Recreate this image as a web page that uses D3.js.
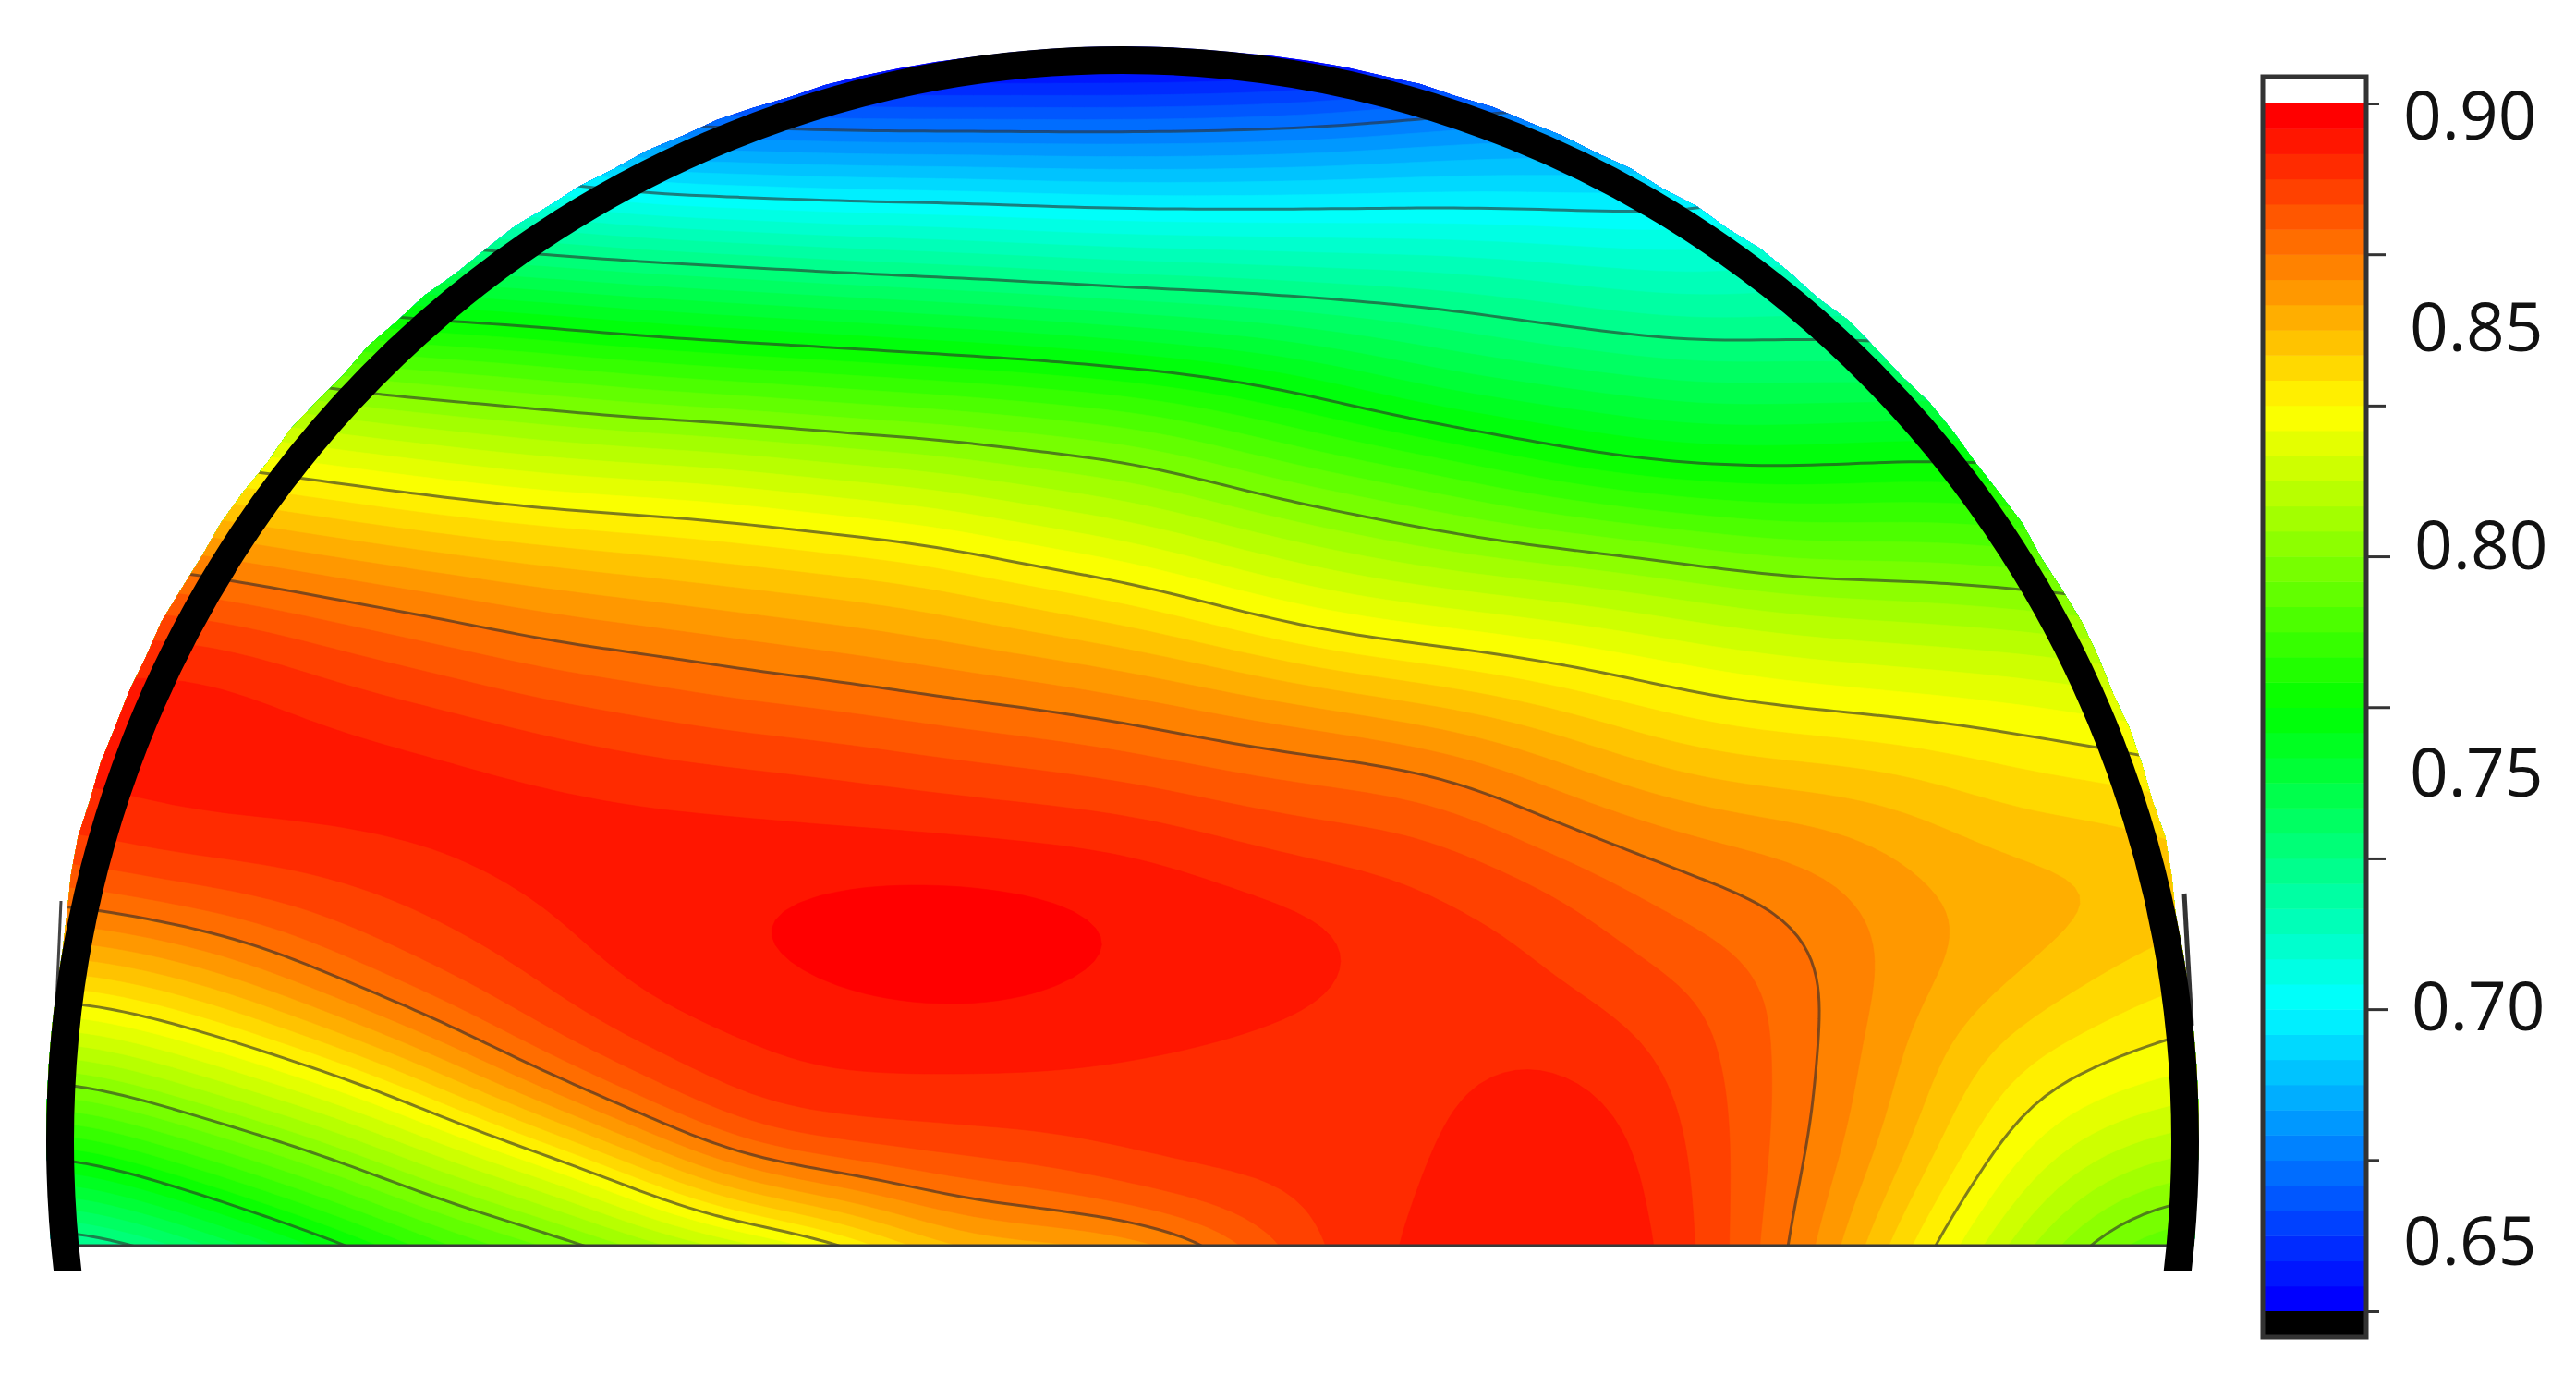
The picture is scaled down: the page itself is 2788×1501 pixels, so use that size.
<!DOCTYPE html>
<html>
<head>
<meta charset="utf-8">
<script src="https://cdn.jsdelivr.net/npm/d3@7"></script>
<style>html,body{margin:0;padding:0;background:#fff}svg{display:block;filter:blur(0.7px)}</style>
</head>
<body>
<svg id="chart" width="2788" height="1501"></svg>
<script>
// ---- values ----
const gridX = [30,90,150,210,270,330,390,450,510,570,630,690,750,810,870,930,990,1050,1110,1170,1230,1290,1350];
const gridY = [0,40,80,120,160,200,240,280,320,360,400,440,480,520,560,600,640,680,720,760];
// one array per gridX column, one value (in thousandths) per gridY row
const field = [
[620,655,685,717,752,782,811,833,858,875,887,891,889,879,862,838,811,783,752,723],
[620,655,685,717,752,782,811,833,856,873,889,893,890,885,867,845,820,794,765,733],
[620,655,690,720,752,782,808,830,851,869,886,892,892,885,873,855,831,806,779,750],
[620,655,685,717,745,773,802,826,846,865,879,889,892,887,879,868,844,817,793,765],
[620,650,680,710,740,771,798,822,842,861,875,886,892,889,884,877,860,833,807,783],
[620,645,678,708,737,768,795,818,839,857,870,882,890,892,888,884,875,851,818,793],
[610,640,668,702,734,764,791,816,837,854,868,879,888,892,893,890,884,869,836,807],
[610,638,669,700,732,761,789,814,835,851,865,876,887,892,894,893,888,883,857,819],
[610,636,667,698,729,759,786,810,831,849,862,875,885,892,897,895,890,886,864,830],
[610,636,667,698,727,756,784,808,828,846,859,872,883,892,898,897,890,886,872,850],
[610,636,667,696,725,754,781,803,822,840,856,870,881,891,897,896,890,886,875,853],
[610,636,667,695,723,750,778,800,818,836,852,867,879,890,894,893,889,886,882,856],
[610,637,668,695,722,748,772,792,811,828,847,863,875,886,892,892,888,886,885,870],
[610,640,669,696,720,744,765,785,805,822,840,860,873,882,890,890,886,885,885,886],
[610,645,673,696,720,740,756,780,799,818,837,855,871,881,885,885,886,887,889,890],
[610,650,675,696,718,735,753,772,794,815,833,850,863,874,884,885,889,894,895,895],
[610,655,675,695,716,731,750,766,790,812,829,843,856,868,875,881,885,889,892,894],
[610,660,680,697,714,729,747,764,786,807,825,838,851,863,870,876,878,879,879,879],
[610,665,690,705,718,731,748,765,783,804,822,836,850,860,865,867,866,865,863,860],
[610,660,685,700,715,727,748,767,785,803,820,834,847,854,857,856,853,851,845,836],
[610,670,695,710,720,733,750,765,782,801,818,832,841,850,853,850,840,832,823,813],
[610,670,700,715,725,735,750,765,780,798,815,829,840,849,850,841,835,823,808,793],
[610,670,700,715,725,735,750,765,780,795,812,825,836,845,844,837,830,817,803,785]
];
const tickValues = [0.9, 0.8667, 0.8333, 0.8, 0.7667, 0.7333, 0.7, 0.6667, 0.6333];
const tickLabels = ["0.90", "0.85", "0.80", "0.75", "0.70", "0.65"];
const contourLines = [0.6667, 0.7, 0.7333, 0.7667, 0.8, 0.8333, 0.8667];
const rainbowStops = ["#0000ff", "#00ffff", "#00ff00", "#ffff00", "#ff0000"];
const bandCount = 48;
const valueMin = 0.6333, valueMax = 0.9;

// ---- layout ----
const W = 2788, H = 1501;
const toPx = d3.scaleLinear().domain([0, 1568]).range([0, W]);   // reference units to pixels
const cx = 1215, cy = 1235, rx = 1150, ry = 1170, ringW = 30, baseY = 1348, ringEnd = 1375;
const barX0 = 2450, barX1 = 2560, barTop = 84, barBottom = 1447;
const tickLen = [13, 20, 20, 25, 25, 20, 23, 13, 13];
const labelX = [2601, 2608, 2613, 2608, 2610, 2601];
const labelBase = [151, 380, 616, 862, 1115, 1369];
// how far the coloured field pokes out past the black ring, one entry per 2 degrees from the right end to the left end
const rimSpill = [0,0,0,0,0,0,0,5,9,7,9,10,8,10,11,9,7,10,8,7,9,10,7,8,10,6,8,9,6,8,5,7,5,6,5,6,4,5,3,3,2,1,0,0,0,0,0,0,0,0,1,2,3,4,3,5,7,6,8,7,9,8,10,8,7,10,9,11,8,10,12,9,11,12,10,11,13,11,12,11,12,10,11,8,3,0,0,0,0,0,0];

const svg = d3.select("#chart");
const defs = svg.append("defs");

// upsample the read grid for smooth drawing (Catmull-Rom, rendering only);
// a padding row below the base keeps the smoothing from shifting lines at the edge
const gridYDraw = [...gridY, 2 * gridY[gridY.length-1] - gridY[gridY.length-2]];
const fieldDraw = field.map(c => [...c, 2 * c[c.length-1] - c[c.length-2]]);
const nx = gridX.length, ny = gridYDraw.length, factor = 8;
const fx = (nx - 1) * factor + 1, fy = (ny - 1) * factor + 1;
function cr(a, b, c, d, t) {
  return 0.5 * (2*b + (c-a)*t + (2*a-5*b+4*c-d)*t*t + (3*b-a-3*c+d)*t*t*t);
}
const at = (i, j) => fieldDraw[Math.max(0, Math.min(nx-1, i))][Math.max(0, Math.min(ny-1, j))] / 1000;
const fine = new Float64Array(fx * fy);
for (let v = 0; v < fy; v++) {
  const j = Math.min(ny-2, Math.floor(v / factor)), tj = v / factor - j;
  for (let u = 0; u < fx; u++) {
    const i = Math.min(nx-2, Math.floor(u / factor)), ti = u / factor - i;
    const col = [-1,0,1,2].map(k => cr(at(i+k,j-1), at(i+k,j), at(i+k,j+1), at(i+k,j+2), tj));
    fine[v * fx + u] = cr(col[0], col[1], col[2], col[3], ti);
  }
}
if (d3.blur2) d3.blur2({data: fine, width: fx, height: fy}, 4, 4);

const xFine = d3.scaleLinear().domain([0, fx - 1]).range([toPx(gridX[0]), toPx(gridX[nx-1])]);
const yFine = d3.scaleLinear().domain([0, fy - 1]).range([toPx(gridYDraw[0]), toPx(gridYDraw[ny-1])]);
const geoPath = d3.geoPath(d3.geoTransform({
  point(x, y) { this.stream.point(xFine(x - 0.5), yFine(y - 0.5)); }
}));

const colorT = d3.scaleLinear().domain([0, .25, .5, .75, 1]).range(rainbowStops).interpolate(d3.interpolateRgb);
const bandStep = (valueMax - valueMin) / bandCount;
const bands = d3.range(bandCount).map(i => ({ i, v: valueMin + i * bandStep, color: colorT(i / (bandCount - 1)) }));

// clip: ring interior plus jagged spill, closed along the base
const Rx = rx + ringW / 2, Ry = ry + ringW / 2;
const rimPts = [];
const endC = Math.sqrt(1 - Math.pow((baseY - cy) / Ry, 2));
rimPts.push([cx + Rx * endC, baseY]);
rimSpill.forEach((s, k) => {
  const a = k * 2 * Math.PI / 180;
  rimPts.push([cx + (Rx + s) * Math.cos(a), cy - (Ry + s) * Math.sin(a)]);
});
rimPts.push([cx - Rx * endC, baseY]);
defs.append("clipPath").attr("id", "fieldClip").append("path")
  .attr("d", d3.line()(rimPts) + "Z");

const map = svg.append("g").attr("clip-path", "url(#fieldClip)");
map.append("rect").attr("x", 0).attr("y", 0).attr("width", W).attr("height", baseY).attr("fill", rainbowStops[0]);

const contourGen = d3.contours().size([fx, fy]);
map.append("g").selectAll("path").data(bands).join("path")
  .attr("d", d => geoPath(contourGen.contour(fine, d.v)))
  .attr("fill", d => d.color)
  .attr("stroke", d => d.color).attr("stroke-width", 0.6);
map.append("g").selectAll("path").data(contourLines).join("path")
  .attr("d", d => geoPath(contourGen.contour(fine, d)))
  .attr("fill", "none").attr("stroke", "#2b2b2b").attr("stroke-opacity", 0.6).attr("stroke-width", 3);

// base line
svg.append("line").attr("x1", 80).attr("x2", 2350).attr("y1", baseY).attr("y2", baseY)
  .attr("stroke", "#3a3a3a").attr("stroke-width", 3);

// short dark stubs beside the ring
svg.append("path").attr("d", "M66,975 L60,1110").attr("stroke", "#444").attr("stroke-width", 3).attr("fill", "none");
svg.append("path").attr("d", "M2364,967 L2372,1110").attr("stroke", "#333").attr("stroke-width", 5).attr("fill", "none");

// black ring, cut flat at the bottom
defs.append("clipPath").attr("id", "ringClip").append("rect").attr("x", 0).attr("y", 0).attr("width", W).attr("height", ringEnd);
svg.append("g").attr("clip-path", "url(#ringClip)").append("ellipse")
  .attr("cx", cx).attr("cy", cy).attr("rx", rx).attr("ry", ry)
  .attr("fill", "none").attr("stroke", "#000").attr("stroke-width", ringW);

// colour bar
const barY = d3.scaleLinear().domain([valueMin, valueMax]).range([1419, 112]);
const bar = svg.append("g");
bar.append("rect").attr("x", barX0).attr("y", barTop).attr("width", barX1 - barX0).attr("height", barBottom - barTop).attr("fill", "#fff");
bar.selectAll("rect.band").data(bands).join("rect").attr("class", "band")
  .attr("x", barX0).attr("width", barX1 - barX0)
  .attr("y", d => barY(d.v + bandStep)).attr("height", barY(valueMin) - barY(valueMin + bandStep) + 0.5)
  .attr("fill", d => d.color);
bar.append("rect").attr("x", barX0).attr("y", barY(valueMin)).attr("width", barX1 - barX0).attr("height", barBottom - barY(valueMin)).attr("fill", "#000");
bar.append("rect").attr("x", barX0 - 1).attr("y", barTop - 1).attr("width", barX1 - barX0 + 2).attr("height", barBottom - barTop + 1)
  .attr("fill", "none").attr("stroke", "#333").attr("stroke-width", 5);

const axisG = svg.append("g").attr("transform", `translate(${barX1 + 2},0)`)
  .call(d3.axisRight(barY).tickValues(tickValues).tickFormat(""));
axisG.select(".domain").remove();
axisG.selectAll(".tick line").attr("x2", (d, i) => tickLen[i]).attr("stroke", "#333").attr("stroke-width", 3);

svg.append("g").selectAll("text").data(tickLabels).join("text")
  .attr("x", (d, i) => labelX[i]).attr("y", (d, i) => labelBase[i])
  .attr("font-family", "'Open Sans', sans-serif").attr("font-size", 73).attr("fill", "#111")
  .text(d => d);
</script>
</body>
</html>
